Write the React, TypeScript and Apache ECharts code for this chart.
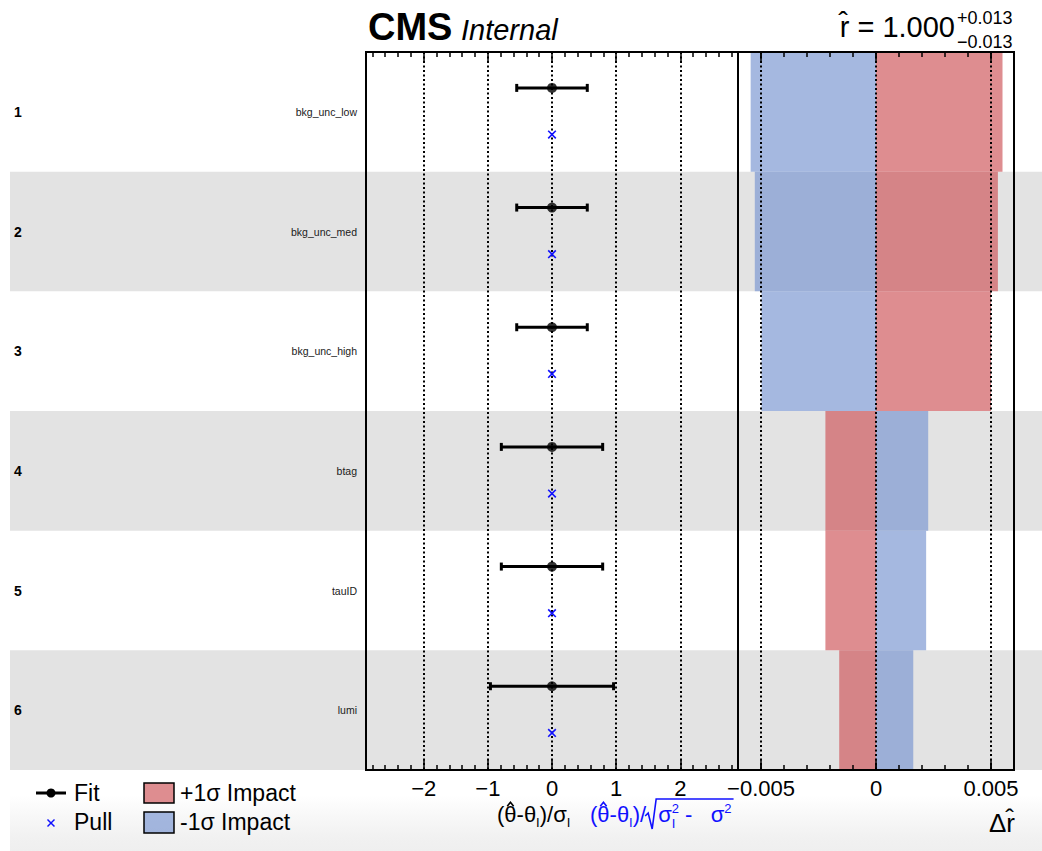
import React, { useEffect, useRef } from 'react';
import * as echarts from 'echarts';

// ---------------- data ----------------
const parameters = ['bkg_unc_low', 'bkg_unc_med', 'bkg_unc_high', 'btag', 'tauID', 'lumi'];
const rankLabels = ['1', '2', '3', '4', '5', '6'];
const fitValues = [0, 0, 0, 0, 0, 0];
const fitErrors = [0.55, 0.55, 0.55, 0.79, 0.79, 0.96];
const pullValues = [0, 0, 0, 0, 0, 0];
const impactPlus = [0.0055, 0.0053, 0.005, -0.0022, -0.0022, -0.0016];
const impactMinus = [-0.00545, -0.00527, -0.00498, 0.00227, 0.00218, 0.00162];
const pullRange = [-2.9, 2.9];
const impactRange = [-0.006, 0.006];
const rHatValue = '1.000';
const rHatUp = '+0.013';
const rHatDown = '\u22120.013';

// ---------------- layout ----------------
const FONT = '"Liberation Sans", Arial, Helvetica, sans-serif';
const TOP = 52;
const PLOT_H = 718;
const PULL_LEFT = 366;
const SPLIT_X = 738;
const RIGHT_X = 1014;
const FIT_OFFSET = 0.3;
const PULL_OFFSET = 0.69;
const RED = 'rgba(206,85,90,0.67)';
const BLUE = 'rgba(121,149,209,0.67)';
const BAND = '#e3e3e3';
const PULL_BLUE = '#1010ff';

let measureCtx: CanvasRenderingContext2D | null = null;
function tw(text: string, size: number, weight = 'normal', style = 'normal') {
  if (!measureCtx) measureCtx = document.createElement('canvas').getContext('2d');
  measureCtx!.font = `${style} ${weight} ${size}px ${FONT}`;
  return measureCtx!.measureText(text).width;
}

function txt(text: string, x: number, y: number, size: number, opts: any = {}) {
  const align = opts.align || 'left';
  return {
    type: 'text',
    x,
    y,
    z: 20,
    silent: true,
    style: {
      text,
      fontSize: size,
      fontFamily: FONT,
      fontWeight: opts.weight || 'normal',
      fontStyle: opts.style || 'normal',
      fill: opts.color || '#000',
      align,
      textAlign: align,
      verticalAlign: 'middle',
      textVerticalAlign: 'middle',
    },
  };
}

// place text with baseline at `base`
function baseTxt(text: string, x: number, base: number, size: number, opts: any = {}) {
  return txt(text, x, base - 0.3465 * size, size, opts);
}

type Seg = {
  t: string; s: number; dy?: number; under?: string; underDy?: number; w?: number; hat?: boolean;
};
function buildSeq(segs: Seg[], x0: number, base: number, color: string) {
  let x = x0;
  const els: any[] = [];
  const starts: number[] = [];
  for (const g of segs) {
    starts.push(x);
    const w = g.w !== undefined ? g.w : tw(g.t, g.s);
    if (g.t) els.push(baseTxt(g.t, x, base + (g.dy || 0), g.s, { color }));
    if (g.hat) {
      const cx = x + w / 2;
      const hy = base - 0.72 * g.s;
      els.push({
        type: 'polyline',
        z: 20,
        silent: true,
        shape: { points: [[cx - 3.2, hy], [cx, hy - 4], [cx + 3.2, hy]] },
        style: { stroke: color, lineWidth: 1.6, fill: null },
      });
    }
    let adv = w;
    if (g.under) {
      els.push(baseTxt(g.under, x, base + (g.underDy || 0), g.s, { color }));
      adv = Math.max(w, tw(g.under, g.s));
    }
    x += adv;
  }
  return { els, end: x, starts };
}

function buildOption() {
  const rowH = PLOT_H / parameters.length;
  const graphics: any[] = [];

  // alternating row bands
  parameters.forEach((_, i) => {
    if (i % 2 === 1) {
      graphics.push({
        type: 'rect',
        z: -10,
        silent: true,
        shape: { x: 10, y: TOP + i * rowH, width: 1032, height: rowH },
        style: { fill: BAND },
      });
    }
  });
  // bottom pad gradient
  graphics.push({
    type: 'rect',
    z: -10,
    silent: true,
    shape: { x: 10, y: 795, width: 1032, height: 56 },
    style: {
      fill: new echarts.graphic.LinearGradient(0, 0, 0, 1, [
        { offset: 0, color: '#ffffff' },
        { offset: 0.75, color: '#f1f1f1' },
        { offset: 1, color: '#efefef' },
      ]),
    },
  });

  // title
  graphics.push(baseTxt('CMS', 368, 40, 38, { weight: 'bold' }));
  graphics.push(baseTxt('Internal', 461, 40, 29, { style: 'italic' }));
  graphics.push(baseTxt('r\u0302 = ' + rHatValue, 955, 37, 29, { align: 'right' }));
  graphics.push(baseTxt(rHatUp, 957, 24, 18));
  graphics.push(baseTxt(rHatDown, 957, 48, 18));

  // x-axis titles
  const black = buildSeq(
    [
      { t: '(', s: 22 },
      { t: '\u03b8', s: 22, hat: true },
      { t: '-\u03b8', s: 22 },
      { t: 'I', s: 13, dy: 5 },
      { t: ')/\u03c3', s: 22 },
      { t: 'I', s: 13, dy: 5 },
    ],
    497,
    822,
    '#000'
  );
  graphics.push(...black.els);
  const blue = buildSeq(
    [
      { t: '(', s: 22 },
      { t: '\u03b8', s: 22, hat: true },
      { t: '-\u03b8', s: 22 },
      { t: 'I', s: 13, dy: 5 },
      { t: ')/', s: 22 },
      { t: '', s: 22, w: 12 },
      { t: '\u03c3', s: 22 },
      { t: '2', s: 13, dy: -9, under: 'I', underDy: 6 },
      { t: ' -   ', s: 22 },
      { t: '\u03c3', s: 22 },
      { t: '2', s: 13, dy: -9 },
    ],
    590,
    822,
    PULL_BLUE
  );
  graphics.push(...blue.els);
  const rx = blue.starts[5];
  graphics.push({
    type: 'polyline',
    z: 20,
    silent: true,
    shape: {
      points: [
        [rx - 1, 816],
        [rx + 2, 813],
        [rx + 6, 829],
        [rx + 10, 799],
        [blue.end + 2, 799],
      ],
    },
    style: { stroke: PULL_BLUE, lineWidth: 1.6, fill: null },
  });
  graphics.push(baseTxt('\u0394r\u0302', 1015, 832, 26, { align: 'right' }));

  // legend
  graphics.push({
    type: 'line', z: 20, silent: true,
    shape: { x1: 36, y1: 793, x2: 66, y2: 793 },
    style: { stroke: '#000', lineWidth: 3 },
  });
  graphics.push({
    type: 'circle', z: 21, silent: true,
    shape: { cx: 51, cy: 793, r: 4.5 },
    style: { fill: '#000' },
  });
  graphics.push(txt('Fit', 74, 793, 23));
  graphics.push({
    type: 'line', z: 20, silent: true,
    shape: { x1: 47.5, y1: 819.5, x2: 54.5, y2: 826.5 },
    style: { stroke: PULL_BLUE, lineWidth: 1.5 },
  });
  graphics.push({
    type: 'line', z: 20, silent: true,
    shape: { x1: 54.5, y1: 819.5, x2: 47.5, y2: 826.5 },
    style: { stroke: PULL_BLUE, lineWidth: 1.5 },
  });
  graphics.push(txt('Pull', 74, 822, 23));
  graphics.push({
    type: 'rect', z: 20, silent: true,
    shape: { x: 144, y: 783, width: 30, height: 20 },
    style: { fill: RED, stroke: '#000', lineWidth: 1.5 },
  });
  graphics.push(txt('+1\u03c3 Impact', 180, 793, 23));
  graphics.push({
    type: 'rect', z: 20, silent: true,
    shape: { x: 144, y: 812, width: 30, height: 21 },
    style: { fill: BLUE, stroke: '#000', lineWidth: 1.5 },
  });
  graphics.push(txt('-1\u03c3 Impact', 180, 822, 23));

  const minus = (s: string) => s.replace('-', '\u2212');
  const tickStyle = { color: '#000', width: 1.5 };

  const option: any = {
    animation: false,
    backgroundColor: '#ffffff',
    grid: [
      {
        left: PULL_LEFT, top: TOP, width: SPLIT_X - PULL_LEFT, height: PLOT_H,
        show: true, borderColor: '#000', borderWidth: 2, backgroundColor: 'transparent',
      },
      {
        left: SPLIT_X, top: TOP, width: RIGHT_X - SPLIT_X, height: PLOT_H,
        show: true, borderColor: '#000', borderWidth: 2, backgroundColor: 'transparent',
      },
    ],
    xAxis: [
      {
        type: 'value', gridIndex: 0, position: 'bottom',
        min: pullRange[0], max: pullRange[1], splitNumber: 5, z: 3,
        axisLine: { show: true, onZero: false, lineStyle: { color: '#000', width: 2 } },
        axisTick: { show: true, inside: true, length: 10, lineStyle: tickStyle },
        minorTick: { show: true, splitNumber: 5, length: 5, lineStyle: tickStyle },
        splitLine: { show: true, lineStyle: { color: '#000', width: 2, type: [2, 2.5] } },
        axisLabel: {
          show: true, fontSize: 22, color: '#000', fontFamily: FONT, margin: 7,
          showMinLabel: false, showMaxLabel: false,
          formatter: (v: number) => (Math.abs(v - Math.round(v)) < 1e-9 ? minus(String(v)) : ''),
        },
      },
      {
        type: 'value', gridIndex: 0, position: 'top',
        min: pullRange[0], max: pullRange[1], splitNumber: 5, z: 3,
        axisLine: { show: true, onZero: false, lineStyle: { color: '#000', width: 2 } },
        axisTick: { show: true, inside: true, length: 10, lineStyle: tickStyle },
        minorTick: { show: true, splitNumber: 5, length: 5, lineStyle: tickStyle },
        splitLine: { show: false },
        axisLabel: { show: false },
      },
      {
        type: 'value', gridIndex: 1, position: 'bottom',
        min: impactRange[0], max: impactRange[1], splitNumber: 2, z: 3,
        axisLine: { show: true, onZero: false, lineStyle: { color: '#000', width: 2 } },
        axisTick: { show: true, inside: true, length: 10, lineStyle: tickStyle },
        splitLine: { show: true, lineStyle: { color: '#000', width: 2, type: [2, 2.5] } },
        axisLabel: {
          show: true, fontSize: 22, color: '#000', fontFamily: FONT, margin: 7,
          showMinLabel: false, showMaxLabel: false,
          formatter: (v: number) =>
            Math.abs(v / 0.005 - Math.round(v / 0.005)) < 1e-6 ? minus(String(v)) : '',
        },
      },
      {
        type: 'value', gridIndex: 1, position: 'bottom',
        min: impactRange[0], max: impactRange[1], interval: 0.001, z: 3,
        axisLine: { show: false },
        axisTick: { show: true, inside: true, length: 5, lineStyle: tickStyle },
        splitLine: { show: false },
        axisLabel: { show: false },
      },
      {
        type: 'value', gridIndex: 1, position: 'top',
        min: impactRange[0], max: impactRange[1], splitNumber: 2, z: 3,
        axisLine: { show: true, onZero: false, lineStyle: { color: '#000', width: 2 } },
        axisTick: { show: true, inside: true, length: 10, lineStyle: tickStyle },
        splitLine: { show: false },
        axisLabel: { show: false },
      },
      {
        type: 'value', gridIndex: 1, position: 'top',
        min: impactRange[0], max: impactRange[1], interval: 0.001, z: 3,
        axisLine: { show: false },
        axisTick: { show: true, inside: true, length: 5, lineStyle: tickStyle },
        splitLine: { show: false },
        axisLabel: { show: false },
      },
    ],
    yAxis: [
      {
        type: 'value', gridIndex: 0, min: 0, max: parameters.length, inverse: true,
        show: false,
      },
      {
        type: 'category', gridIndex: 0, data: parameters, inverse: true, position: 'left',
        axisLine: { show: false }, axisTick: { show: false }, splitLine: { show: false },
        axisLabel: { show: true, fontSize: 10.5, color: '#1a1a1a', fontFamily: FONT, margin: 9 },
      },
      {
        type: 'category', gridIndex: 0, data: rankLabels, inverse: true, position: 'left',
        axisLine: { show: false }, axisTick: { show: false }, splitLine: { show: false },
        axisLabel: {
          show: true, fontSize: 14, fontWeight: 'bold', color: '#000', fontFamily: FONT,
          align: 'left', margin: PULL_LEFT - 14,
        },
      },
      {
        type: 'category', gridIndex: 1, data: parameters, inverse: true, show: false,
      },
    ],
    series: [
      {
        name: '+1\u03c3 Impact', type: 'bar', xAxisIndex: 2, yAxisIndex: 3,
        data: impactPlus, barWidth: '100%', barGap: '-100%', barCategoryGap: 0,
        itemStyle: { color: RED }, z: 2, silent: true,
      },
      {
        name: '-1\u03c3 Impact', type: 'bar', xAxisIndex: 2, yAxisIndex: 3,
        data: impactMinus, barWidth: '100%', barGap: '-100%', barCategoryGap: 0,
        itemStyle: { color: BLUE }, z: 2, silent: true,
      },
      {
        name: 'Fit error', type: 'custom', xAxisIndex: 0, yAxisIndex: 0, z: 4, silent: true,
        data: parameters.map((_, i) => [
          fitValues[i] - fitErrors[i],
          fitValues[i] + fitErrors[i],
          i + FIT_OFFSET,
        ]),
        encode: { x: [0, 1], y: 2 },
        renderItem: (params: any, api: any) => {
          const y = api.value(2);
          const p1 = api.coord([api.value(0), y]);
          const p2 = api.coord([api.value(1), y]);
          const st = { stroke: '#000', lineWidth: 3 };
          return {
            type: 'group',
            children: [
              { type: 'line', shape: { x1: p1[0], y1: p1[1], x2: p2[0], y2: p2[1] }, style: st },
              { type: 'line', shape: { x1: p1[0], y1: p1[1] - 4, x2: p1[0], y2: p1[1] + 4 }, style: st },
              { type: 'line', shape: { x1: p2[0], y1: p2[1] - 4, x2: p2[0], y2: p2[1] + 4 }, style: st },
            ],
          };
        },
      },
      {
        name: 'Fit', type: 'scatter', xAxisIndex: 0, yAxisIndex: 0, z: 5, silent: true,
        symbol: 'circle', symbolSize: 10,
        itemStyle: { color: '#000' },
        data: parameters.map((_, i) => [fitValues[i], i + FIT_OFFSET]),
      },
      {
        name: 'Pull', type: 'custom', xAxisIndex: 0, yAxisIndex: 0, z: 5, silent: true,
        data: parameters.map((_, i) => [pullValues[i], i + PULL_OFFSET]),
        encode: { x: 0, y: 1 },
        renderItem: (params: any, api: any) => {
          const p = api.coord([api.value(0), api.value(1)]);
          const st = { stroke: PULL_BLUE, lineWidth: 1.6 };
          const d = 3.8;
          return {
            type: 'group',
            children: [
              { type: 'line', shape: { x1: p[0] - d, y1: p[1] - d, x2: p[0] + d, y2: p[1] + d }, style: st },
              { type: 'line', shape: { x1: p[0] + d, y1: p[1] - d, x2: p[0] - d, y2: p[1] + d }, style: st },
            ],
          };
        },
      },
    ],
    graphic: { elements: graphics },
  };
  return option;
}

export default function App() {
  const ref = useRef<HTMLDivElement>(null);
  useEffect(() => {
    document.body.style.margin = '0';
    if (!ref.current) return;
    const chart = echarts.init(ref.current, null, { renderer: 'svg' });
    chart.setOption(buildOption());
    return () => chart.dispose();
  }, []);
  return <div ref={ref} style={{ width: 1042, height: 851, background: '#fff' }} />;
}
